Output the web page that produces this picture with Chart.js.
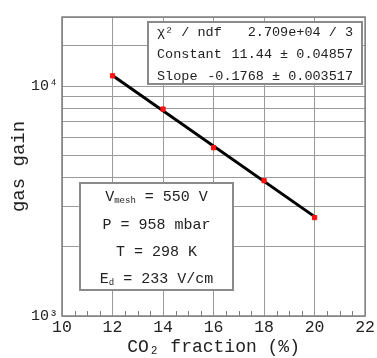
<!DOCTYPE html>
<html>
<head>
<meta charset="utf-8">
<script src="https://cdn.jsdelivr.net/npm/chart.js@4"></script>
<style>
html, body { margin: 0; padding: 0; background: #fff; }
</style>
</head>
<body>
<canvas id="myChart" width="377" height="358"></canvas>
<script>
// Datos
var co2 = [12, 14, 16, 18, 20];
var gasGain = [11100, 7950, 5400, 3880, 2680];
var fitX = [12, 20];
var fitY = [11140, 2707];
var xTicks = [10, 12, 14, 16, 18, 20, 22];
var yTickValues = [1000, 10000];
var yTickLabels = ['10³', '10⁴'];
var statsLabels = ['χ² / ndf', 'Constant', 'Slope'];
var statsValues = ['2.709e+04 / 3', '11.44 ± 0.04857', '-0.1768 ± 0.003517'];
var infoLines = [
    ['V', 'mesh', ' = 550 V'],
    ['P = 958 mbar', '', ''],
    ['T = 298 K', '', ''],
    ['E', 'd', ' = 233 V/cm']
];

var mono = "'Liberation Mono', 'DejaVu Sans Mono', monospace";
var textColor = '#222';
var gridColor = '#9a9a9a';
var frameColor = '#808080';

// Plugin para el marco, ticks menores y las cajas de texto
var extras = {
    id: 'extras',
    afterDraw: function (chart) {
        var ctx = chart.ctx;
        var a = chart.chartArea;
        var xs = chart.scales.x;
        ctx.save();

        // marco
        ctx.strokeStyle = frameColor;
        ctx.lineWidth = 1.5;
        ctx.strokeRect(a.left, a.top, a.right - a.left, a.bottom - a.top);

        // ticks menores en x
        ctx.lineWidth = 1;
        for (var v = xTicks[0]; v <= xTicks[xTicks.length - 1]; v += 0.5) {
            if (v % 2 === 0) continue;
            var px = Math.round(xs.getPixelForValue(v)) + 0.5;
            ctx.beginPath();
            ctx.moveTo(px, a.bottom);
            ctx.lineTo(px, a.bottom - 5);
            ctx.stroke();
        }

        // caja de estadisticas
        var bx = 148, by = 22, bw = 214, bh = 62;
        ctx.fillStyle = '#fff';
        ctx.fillRect(bx, by, bw, bh);
        ctx.strokeStyle = '#8a8a8a';
        ctx.lineWidth = 2;
        ctx.strokeRect(bx, by, bw, bh);
        ctx.fillStyle = textColor;
        ctx.font = '13.5px ' + mono;
        ctx.textBaseline = 'middle';
        var rows = [32, 54, 76];
        for (var i = 0; i < statsLabels.length; i++) {
            ctx.textAlign = 'left';
            ctx.fillText(statsLabels[i], 157, rows[i]);
            ctx.textAlign = 'right';
            ctx.fillText(statsValues[i], 353, rows[i]);
        }

        // caja de condiciones
        var ix = 80, iy = 183, iw = 153, ih = 107;
        ctx.fillStyle = '#fff';
        ctx.fillRect(ix, iy, iw, ih);
        ctx.strokeStyle = '#8a8a8a';
        ctx.lineWidth = 2;
        ctx.strokeRect(ix, iy, iw, ih);
        var lineY = [197, 225, 252, 279];
        var cx = ix + iw / 2;
        ctx.fillStyle = textColor;
        ctx.textAlign = 'left';
        for (var j = 0; j < infoLines.length; j++) {
            var l = infoLines[j];
            ctx.font = '15px ' + mono;
            var w1 = ctx.measureText(l[0]).width;
            var w3 = ctx.measureText(l[2]).width;
            ctx.font = '9px ' + mono;
            var w2 = ctx.measureText(l[1]).width;
            var start = cx - (w1 + w2 + w3) / 2;
            ctx.font = '15px ' + mono;
            ctx.fillText(l[0], start, lineY[j]);
            ctx.font = '9px ' + mono;
            ctx.fillText(l[1], start + w1, lineY[j] + 4);
            ctx.font = '15px ' + mono;
            ctx.fillText(l[2], start + w1 + w2, lineY[j]);
        }
        ctx.restore();
    }
};

var ctx = document.getElementById('myChart').getContext('2d');
var myChart = new Chart(ctx, {
    type: 'scatter',
    data: {
        datasets: [{
            label: 'gas gain',
            data: co2.map(function (x, i) { return { x: x, y: gasGain[i] }; }),
            backgroundColor: '#ff1010',
            borderColor: '#ff1010',
            pointStyle: 'rect',
            pointRadius: 3,
            order: 0
        }, {
            label: 'fit',
            type: 'line',
            data: fitX.map(function (x, i) { return { x: x, y: fitY[i] }; }),
            borderColor: '#000',
            borderWidth: 3,
            pointRadius: 0,
            fill: false,
            order: 1
        }]
    },
    options: {
        responsive: false,
        animation: false,
        layout: { padding: { top: 17, right: 9, left: 0, bottom: 0 } },
        plugins: { legend: { display: false }, tooltip: { enabled: false } },
        scales: {
            x: {
                type: 'linear',
                min: 10,
                max: 22,
                afterBuildTicks: function (scale) {
                    scale.ticks = xTicks.map(function (v) { return { value: v }; });
                },
                ticks: { font: { family: mono, size: 16.5 }, color: textColor, padding: 2, maxRotation: 0 },
                grid: { color: gridColor, drawTicks: false },
                border: { display: false },
                title: {
                    display: true, text: 'CO₂ fraction (%)',
                    font: { family: mono, size: 18 }, color: textColor, padding: { top: 0, bottom: 0 }
                },
                afterFit: function (scale) { scale.height = 42; }
            },
            y: {
                type: 'logarithmic',
                min: 1000,
                max: 20000,
                ticks: {
                    autoSkip: false,
                    font: { family: mono, size: 15 },
                    color: textColor,
                    padding: 4,
                    callback: function (value) {
                        var k = yTickValues.indexOf(value);
                        return k >= 0 ? yTickLabels[k] : '';
                    }
                },
                grid: { color: gridColor, drawTicks: false },
                border: { display: false },
                title: {
                    display: true, text: 'gas gain',
                    font: { family: mono, size: 19 }, color: textColor, padding: { top: 8, bottom: 4 }
                },
                afterFit: function (scale) { scale.width = 62; }
            }
        }
    },
    plugins: [extras]
});
</script>
</body>
</html>
